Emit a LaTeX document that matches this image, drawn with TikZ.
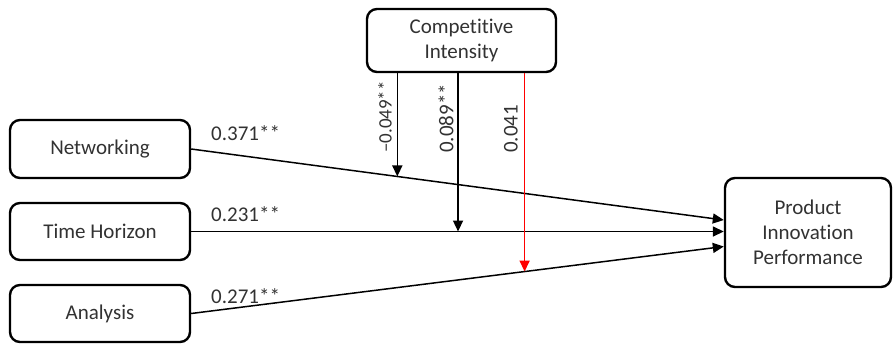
\documentclass[tikz,border=0pt]{standalone}
\usepackage{fontspec}
\setmainfont{Carlito}[RawFeature={-liga;-clig;-dlig}]
\usetikzlibrary{arrows.meta,calc}
\definecolor{txt}{RGB}{50,50,50}
\tikzset{
  box/.style={draw=black, line width=2.4pt, rounded corners=10pt, align=center,
    text=txt, font=\fontsize{21}{25}\selectfont, inner sep=0pt},
  path/.style={line width=1.5pt, -{Triangle[length=11pt,width=10pt]}},
  coef/.style={text=txt, font=\fontsize{21}{24}\selectfont, inner sep=0pt},
}
\begin{document}
\begin{tikzpicture}[x=1pt,y=-1pt]
\useasboundingbox (0,0) rectangle (894,346);
\node[box, minimum width=189pt, minimum height=63pt] (CI) at (461.5,40.5) {Competitive\\Intensity};
\node[box, minimum width=180pt, minimum height=58pt] (NW) at (100,149) {Networking};
\node[box, minimum width=180pt, minimum height=57pt] (TH) at (100,231.5) {Time Horizon};
\node[box, minimum width=180pt, minimum height=57pt] (AN) at (100,313.5) {Analysis};
\node[box, minimum width=166pt, minimum height=109pt] (PIP) at (808,232.5) {Product\\Innovation\\Performance};

\draw[path] (NW.east) -- coordinate[pos=0.387] (m1) ($(PIP.west)+(0,-12.5)$);
\draw[path] (TH.east) -- coordinate[pos=0.501] (m2) (TH.east -| PIP.west);
\draw[path] (AN.east) -- coordinate[pos=0.626] (m3) ($(PIP.west)+(0,14)$);

\draw[path] (CI.south -| m1) -- (m1);
\draw[path] (CI.south -| m2) -- (m2);
\draw[path, draw=red, fill=red] (CI.south -| m3) -- (m3);

\node[coef, anchor=west] (l1) at (211,133) {0.371**};
\node[coef, anchor=west] (l2) at (211,214) {0.231**};
\node[coef, anchor=west] (l3) at (211,296) {0.271**};

\node[coef, rotate=90, anchor=west, font=\fontsize{19}{22}\selectfont] (v1) at (385,153) {–0.049**};
\node[coef, rotate=90, anchor=west] (v2) at (446,153) {0.089**};
\node[coef, rotate=90, anchor=west] (v3) at (511,153) {0.041};
\end{tikzpicture}
\end{document}
